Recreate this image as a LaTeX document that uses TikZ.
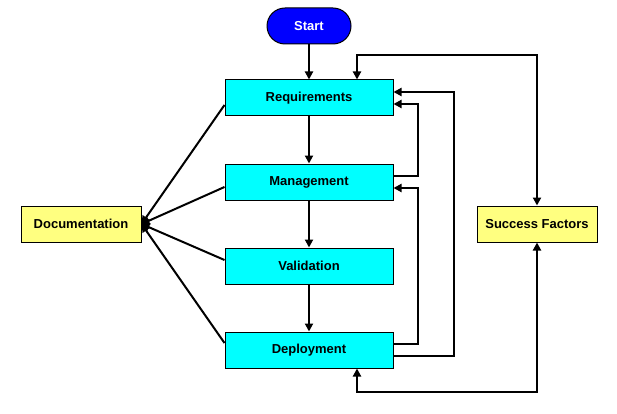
\documentclass[tikz,border=0pt]{standalone}
\usepackage{fontspec}
\setmainfont{Liberation Sans}
\usetikzlibrary{arrows.meta,calc}
\definecolor{boxcyan}{RGB}{0,255,255}
\definecolor{boxyellow}{RGB}{255,255,128}
\definecolor{startblue}{RGB}{0,0,255}
\begin{document}
\begin{tikzpicture}[x=1pt,y=-1pt,
  >={Triangle[length=8pt,width=8pt]},
  lbl/.style={font=\fontsize{13}{15}\selectfont\bfseries},
  stepbox/.style={lbl,draw=black,line width=1pt,fill=boxcyan,minimum width=168pt,minimum height=36pt,inner sep=0pt},
  sidebox/.style={lbl,draw=black,line width=1pt,fill=boxyellow,minimum width=120pt,minimum height=36pt,inner sep=0pt},
  startbox/.style={lbl,draw=black,line width=1pt,fill=startblue,text=white,rounded corners=18pt,minimum width=84pt,minimum height=36pt,inner sep=0pt},
  conn/.style={line width=2pt,line join=miter}]
\useasboundingbox (0,0) rectangle (617,414);
\node[startbox] (start) at (309,26) {Start};
\node[stepbox] (req) at (309,98) {Requirements};
\node[stepbox] (mgmt) at (309,182) {Management};
\node[stepbox] (val) at (309,266) {Validation};
\node[stepbox] (dep) at (309,350) {Deployment};
\node[sidebox] (doc) at (81,224) {Documentation};
\node[sidebox] (sf) at (537,224) {Success Factors};
% main flow
\draw[conn,->] (start) -- (req);
\draw[conn,->] (req) -- (mgmt);
\draw[conn,->] (mgmt) -- (val);
\draw[conn,->] (val) -- (dep);
% to documentation
\draw[conn,->] ($(req.west)+(0,7)$) -- (doc.east);
\draw[conn,->] ($(mgmt.west)+(0,5)$) -- (doc.east);
\draw[conn,->] ($(val.west)+(0,-6)$) -- (doc.east);
\draw[conn,->] ($(dep.west)+(0,-7)$) -- (doc.east);
% feedback loops
\draw[conn,->] ($(mgmt.east)+(0,-6)$) -- ++(24,0) |- ($(req.east)+(0,6)$);
\draw[conn,->] ($(dep.east)+(0,-6)$) -- ++(24,0) |- ($(mgmt.east)+(0,6)$);
\draw[conn,->] ($(dep.east)+(0,6)$) -- ++(60,0) |- ($(req.east)+(0,-6)$);
% success factors
\draw[conn,<->] ($(req.north)+(48,0)$) -- ++(0,-24) -| (sf.north);
\draw[conn,<->] ($(dep.south)+(48,0)$) -- ++(0,23) -| (sf.south);
\end{tikzpicture}
\end{document}
